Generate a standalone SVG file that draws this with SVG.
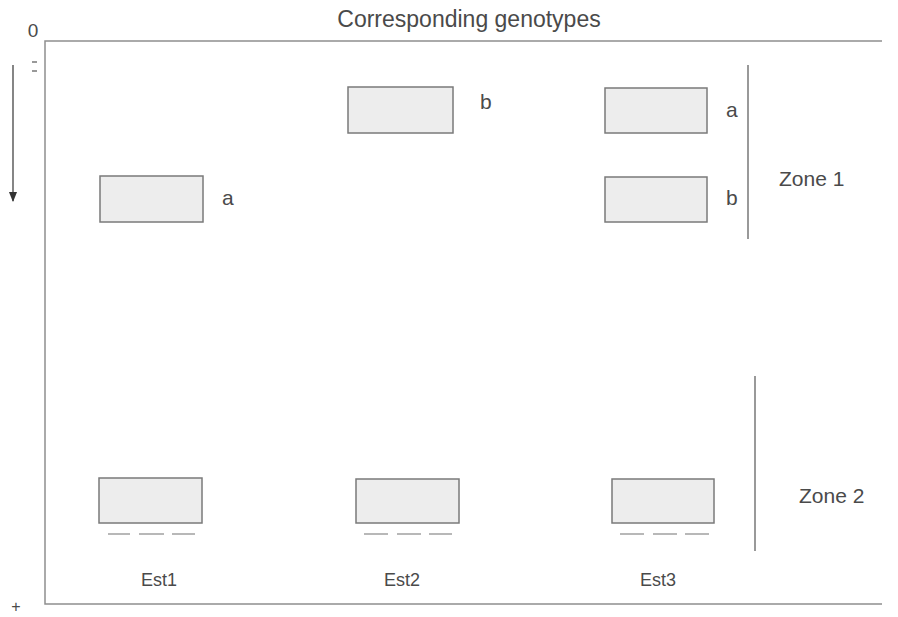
<svg xmlns="http://www.w3.org/2000/svg" width="898" height="617" viewBox="0 0 898 617">
  <style>
    text { font-family: "Liberation Sans", Arial, sans-serif; fill: #4a4a4a; }
    .frame { stroke: #8f8f8f; stroke-width: 1.5; fill: none; }
    .band { fill: #ededed; stroke: #7a7a7a; stroke-width: 1.5; }
    .zone { stroke: #777; stroke-width: 1.5; }
    .dash { stroke: #888; stroke-width: 1.2; }
    .lbl { font-size: 21px; }
    .est { font-size: 18px; text-anchor: middle; }
    .zl { font-size: 21px; }
  </style>
  <defs>
    <marker id="arrowhead" viewBox="0 0 10 10" refX="9" refY="5" markerWidth="8" markerHeight="8" orient="auto">
      <path d="M0,1 L10,5 L0,9 z" fill="#333"/>
    </marker>
  </defs>

  <!-- gel frame -->
  <g id="frame">
    <path class="frame" d="M882,41 H45 V604 H882"/>
    <text x="469" y="27" font-size="23" text-anchor="middle">Corresponding genotypes</text>
    <text x="33" y="37" font-size="19" text-anchor="middle">0</text>
    <line x1="32" y1="62" x2="37" y2="62" stroke="#777" stroke-width="1.5"/>
    <line x1="32" y1="71" x2="37" y2="71" stroke="#777" stroke-width="1.5"/>
    <text x="16" y="612" font-size="16" text-anchor="middle">+</text>
  </g>

  <!-- migration direction -->
  <g id="connectors">
    <line x1="13" y1="65" x2="13" y2="201" stroke="#444" stroke-width="1.3" marker-end="url(#arrowhead)"/>
  </g>

  <!-- Est1 -->
  <g id="est1">
    <rect class="band" x="100" y="176" width="103" height="46"/>
    <text class="lbl" x="222" y="205">a</text>
    <rect class="band" x="99" y="478" width="103" height="45"/>
    <line class="dash" x1="108" y1="534" x2="130" y2="534"/>
    <line class="dash" x1="139" y1="534" x2="164" y2="534"/>
    <line class="dash" x1="172" y1="534" x2="195" y2="534"/>
    <text class="est" x="159" y="586">Est1</text>
  </g>

  <!-- Est2 -->
  <g id="est2">
    <rect class="band" x="348" y="87" width="105" height="46"/>
    <text class="lbl" x="480" y="109">b</text>
    <rect class="band" x="356" y="479" width="103" height="44"/>
    <line class="dash" x1="364" y1="534" x2="388" y2="534"/>
    <line class="dash" x1="397" y1="534" x2="421" y2="534"/>
    <line class="dash" x1="429" y1="534" x2="452" y2="534"/>
    <text class="est" x="402" y="586">Est2</text>
  </g>

  <!-- Est3 -->
  <g id="est3">
    <rect class="band" x="605" y="88" width="102" height="45"/>
    <text class="lbl" x="726" y="117">a</text>
    <rect class="band" x="605" y="177" width="102" height="45"/>
    <text class="lbl" x="726" y="205">b</text>
    <rect class="band" x="612" y="479" width="102" height="44"/>
    <line class="dash" x1="620" y1="534" x2="644" y2="534"/>
    <line class="dash" x1="653" y1="534" x2="677" y2="534"/>
    <line class="dash" x1="685" y1="534" x2="709" y2="534"/>
    <text class="est" x="658" y="586">Est3</text>
  </g>

  <!-- zones -->
  <g id="zone1">
    <line class="zone" x1="748" y1="65" x2="748" y2="239"/>
    <text class="zl" x="779" y="186">Zone 1</text>
  </g>
  <g id="zone2">
    <line class="zone" x1="755" y1="376" x2="755" y2="551"/>
    <text class="zl" x="799" y="503">Zone 2</text>
  </g>
</svg>
